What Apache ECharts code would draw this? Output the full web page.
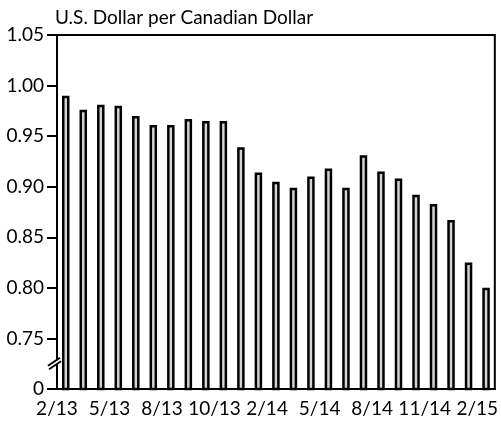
<!DOCTYPE html>
<html>
<head>
<meta charset="utf-8">
<script src="https://cdn.jsdelivr.net/npm/echarts@6/dist/echarts.min.js"></script>
<style>
  html, body { margin: 0; padding: 0; background: #fff; }
  #main { width: 501px; height: 423px; }
</style>
</head>
<body>
<div id="main"></div>
<script>
// monthly averages, Feb 2013 .. Feb 2015
const months = ['2/13', '3/13', '4/13', '5/13', '6/13', '7/13', '8/13', '9/13', '10/13', '11/13', '12/13', '1/14',
    '2/14', '3/14', '4/14', '5/14', '6/14', '7/14', '8/14', '9/14', '10/14', '11/14', '12/14', '1/15', '2/15']
const rates = [0.990, 0.976, 0.981, 0.980, 0.970, 0.961, 0.961, 0.967, 0.965, 0.965, 0.939, 0.914,
    0.905, 0.899, 0.910, 0.918, 0.899, 0.931, 0.915, 0.908, 0.892, 0.883, 0.867, 0.825, 0.800]
// labels shown every third month (as printed in the original)
const tickLabels = ['2/13', '5/13', '8/13', '10/13', '2/14', '5/14', '8/14', '11/14', '2/15']

const FONT = 'Lato'
const gridLeft = 57
const bandW = (501 - 3 - gridLeft) / months.length

const chart = echarts.init(document.getElementById('main'))

chart.setOption({
    animation: false,
    title: {
        text: 'U.S. Dollar per Canadian Dollar',
        left: 55,
        top: 8,
        padding: 0,
        textStyle: { fontFamily: FONT, fontSize: 19, fontWeight: 'normal', color: '#000' }
    },
    grid: {
        left: gridLeft,
        right: 3,
        top: 35,
        bottom: 34,
        show: true,
        borderColor: '#000',
        borderWidth: 2
    },
    xAxis: {
        type: 'category',
        data: months,
        axisLine: { lineStyle: { color: '#000', width: 2 } },
        axisTick: {
            length: 9,
            interval: (i) => i % 3 === 0,
            lineStyle: { color: '#000', width: 2 }
        },
        axisLabel: {
            interval: (i) => i % 3 === 0,
            margin: 10,
            formatter: (v, i) => '{a|' + tickLabels[i / 3] + '}',
            rich: {
                a: {
                    fontFamily: FONT,
                    fontSize: 19,
                    color: '#000',
                    padding: [0, bandW, 0, 0]
                }
            }
        }
    },
    yAxis: {
        type: 'value',
        min: 0.70,
        max: 1.05,
        interval: 0.05,
        splitLine: { show: false },
        axisLine: { show: true, lineStyle: { color: '#000', width: 2 } },
        axisTick: { show: true, length: 10, lineStyle: { color: '#000', width: 2 } },
        axisLabel: {
            margin: 13,
            fontFamily: FONT,
            fontSize: 19,
            color: '#000',
            formatter: (v) => (v < 0.71 ? '0' : v.toFixed(2))
        }
    },
    series: [{
        type: 'bar',
        data: rates,
        barWidth: 7.5,
        itemStyle: {
            color: '#d3d3d3',
            borderColor: '#000',
            borderWidth: 2.5
        }
    }]
})

// axis break mark between 0 and 0.75
const yc = chart.convertToPixel({ yAxisIndex: 0 }, 0.725)
const gx = gridLeft
chart.setOption({
    graphic: [
        {
            type: 'polygon',
            shape: { points: [[gx - 9, yc + 2], [gx + 3, yc - 6], [gx + 4, yc - 2.5], [gx - 8, yc + 5.5]] },
            style: { fill: '#fff' },
            z: 100
        },
        {
            type: 'line',
            shape: { x1: gx - 9, y1: yc + 2, x2: gx + 3, y2: yc - 6 },
            style: { stroke: '#000', lineWidth: 2 },
            z: 101
        },
        {
            type: 'line',
            shape: { x1: gx - 8, y1: yc + 5.5, x2: gx + 4, y2: yc - 2.5 },
            style: { stroke: '#000', lineWidth: 2 },
            z: 101
        }
    ]
})
</script>
</body>
</html>
